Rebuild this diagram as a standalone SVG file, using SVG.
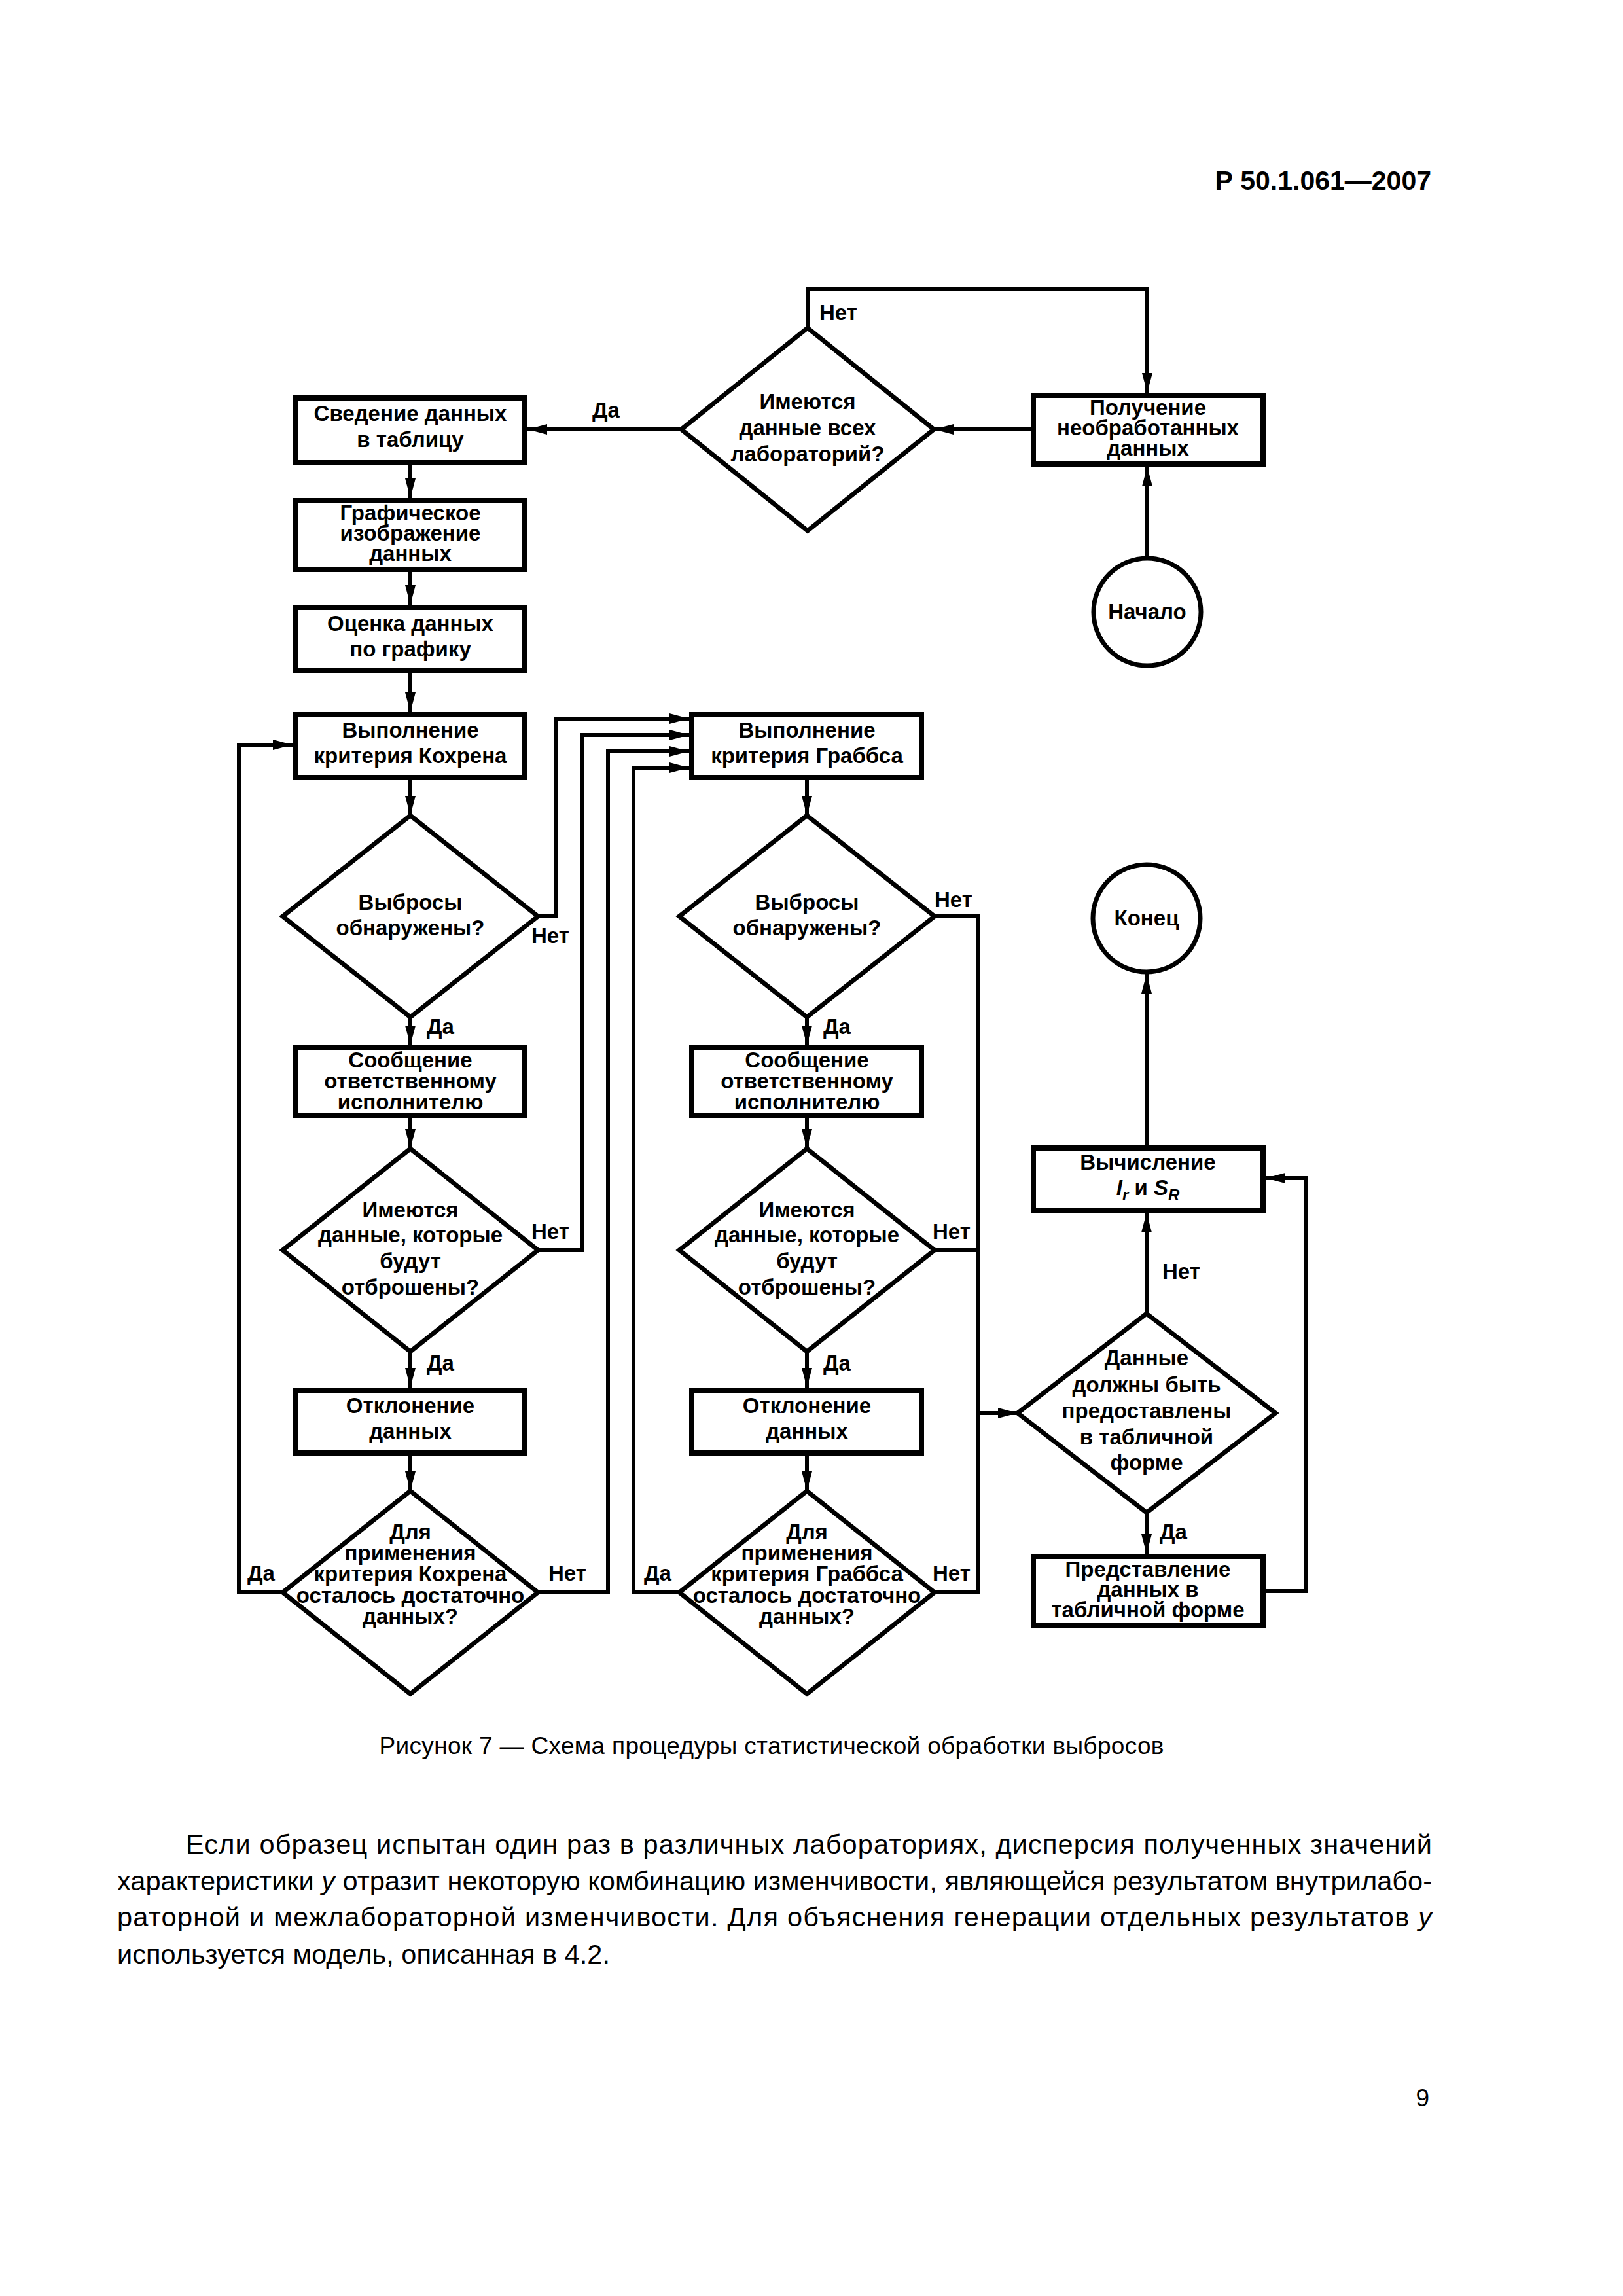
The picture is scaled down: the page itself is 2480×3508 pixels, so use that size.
<svg xmlns="http://www.w3.org/2000/svg" width="2480" height="3508" viewBox="0 0 2480 3508">
<style>
.box{fill:#fff;stroke:#000;stroke-width:8}
.dia{fill:#fff;stroke:#000;stroke-width:7;stroke-linejoin:miter}
.term{fill:#fff;stroke:#000;stroke-width:7}
.t{font-family:"Liberation Sans",Arial,sans-serif;font-weight:bold;font-size:33px;text-anchor:middle;fill:#000}
.lbl{font-family:"Liberation Sans",Arial,sans-serif;font-weight:bold;font-size:33px;fill:#000}
.conn{fill:none;stroke:#000;stroke-width:6;stroke-linejoin:miter}
.page{font-family:"Liberation Sans",Arial,sans-serif;fill:#000}
</style>
<defs>
<marker id="arr" markerUnits="userSpaceOnUse" markerWidth="30" markerHeight="16" refX="30" refY="8" orient="auto">
<path d="M0,0 L30,8 L0,16 z" fill="#000"/>
</marker>
</defs>
<rect width="2480" height="3508" fill="#fff"/>
<text class="page" x="2187" y="290" font-size="41" font-weight="bold" text-anchor="end">Р 50.1.061—2007</text>

<g id="nodes">
<g id="n_poluchenie">
<rect class="box" x="1579" y="604" width="351" height="105"/>
<text class="t" x="1754" y="634">Получение</text>
<text class="t" x="1754" y="665">необработанных</text>
<text class="t" x="1754" y="696">данных</text>
</g>
<g id="n_nachalo">
<circle class="term" cx="1753" cy="935" r="82"/>
<text class="t" x="1753" y="946">Начало</text>
</g>
<g id="n_d0">
<polygon class="dia" points="1234,501 1427,656 1234,811 1041,656"/>
<text class="t" x="1234" y="625">Имеются</text>
<text class="t" x="1234" y="665">данные всех</text>
<text class="t" x="1234" y="705">лабораторий?</text>
</g>
<g id="n_svedenie">
<rect class="box" x="451" y="608" width="351" height="99"/>
<text class="t" x="627" y="643">Сведение данных</text>
<text class="t" x="627" y="683">в таблицу</text>
</g>
<g id="n_graf">
<rect class="box" x="451" y="765" width="351" height="105"/>
<text class="t" x="627" y="795">Графическое</text>
<text class="t" x="627" y="826">изображение</text>
<text class="t" x="627" y="857">данных</text>
</g>
<g id="n_ocenka">
<rect class="box" x="451" y="928" width="351" height="97"/>
<text class="t" x="627" y="964">Оценка данных</text>
<text class="t" x="627" y="1003">по графику</text>
</g>
<g id="n_kochran">
<rect class="box" x="451" y="1092" width="351" height="96"/>
<text class="t" x="627" y="1127">Выполнение</text>
<text class="t" x="627" y="1166">критерия Кохрена</text>
</g>
<g id="n_c_d1">
<polygon class="dia" points="627,1246 822,1400 627,1554 432,1400"/>
<text class="t" x="627" y="1390">Выбросы</text>
<text class="t" x="627" y="1429">обнаружены?</text>
</g>
<g id="n_c_msg">
<rect class="box" x="451" y="1601" width="351" height="103"/>
<text class="t" x="627" y="1631">Сообщение</text>
<text class="t" x="627" y="1663">ответственному</text>
<text class="t" x="627" y="1695">исполнителю</text>
</g>
<g id="n_c_d2">
<polygon class="dia" points="627,1755 822,1910 627,2065 432,1910"/>
<text class="t" x="627" y="1860">Имеются</text>
<text class="t" x="627" y="1898">данные, которые</text>
<text class="t" x="627" y="1938">будут</text>
<text class="t" x="627" y="1978">отброшены?</text>
</g>
<g id="n_c_rej">
<rect class="box" x="451" y="2124" width="351" height="96"/>
<text class="t" x="627" y="2159">Отклонение</text>
<text class="t" x="627" y="2198">данных</text>
</g>
<g id="n_c_d3">
<polygon class="dia" points="627,2278 822,2433 627,2588 432,2433"/>
<text class="t" x="627" y="2352">Для</text>
<text class="t" x="627" y="2384">применения</text>
<text class="t" x="627" y="2416">критерия Кохрена</text>
<text class="t" x="627" y="2449">осталось достаточно</text>
<text class="t" x="627" y="2481">данных?</text>
</g>
<g id="n_grubbs">
<rect class="box" x="1057" y="1092" width="351" height="96"/>
<text class="t" x="1233" y="1127">Выполнение</text>
<text class="t" x="1233" y="1166">критерия Граббса</text>
</g>
<g id="n_g_d1">
<polygon class="dia" points="1233,1246 1428,1400 1233,1554 1038,1400"/>
<text class="t" x="1233" y="1390">Выбросы</text>
<text class="t" x="1233" y="1429">обнаружены?</text>
</g>
<g id="n_g_msg">
<rect class="box" x="1057" y="1601" width="351" height="103"/>
<text class="t" x="1233" y="1631">Сообщение</text>
<text class="t" x="1233" y="1663">ответственному</text>
<text class="t" x="1233" y="1695">исполнителю</text>
</g>
<g id="n_g_d2">
<polygon class="dia" points="1233,1755 1428,1910 1233,2065 1038,1910"/>
<text class="t" x="1233" y="1860">Имеются</text>
<text class="t" x="1233" y="1898">данные, которые</text>
<text class="t" x="1233" y="1938">будут</text>
<text class="t" x="1233" y="1978">отброшены?</text>
</g>
<g id="n_g_rej">
<rect class="box" x="1057" y="2124" width="351" height="96"/>
<text class="t" x="1233" y="2159">Отклонение</text>
<text class="t" x="1233" y="2198">данных</text>
</g>
<g id="n_g_d3">
<polygon class="dia" points="1233,2278 1428,2433 1233,2588 1038,2433"/>
<text class="t" x="1233" y="2352">Для</text>
<text class="t" x="1233" y="2384">применения</text>
<text class="t" x="1233" y="2416">критерия Граббса</text>
<text class="t" x="1233" y="2449">осталось достаточно</text>
<text class="t" x="1233" y="2481">данных?</text>
</g>
<g id="n_konec">
<circle class="term" cx="1752" cy="1403" r="82"/>
<text class="t" x="1752" y="1414">Конец</text>
</g>
<g id="n_calc">
<rect class="box" x="1579" y="1754" width="351" height="95"/>
<text class="t" x="1754" y="1787">Вычисление</text>
<text class="t" x="1754" y="1826"><tspan font-style="italic">I</tspan><tspan font-style="italic" font-size="24" dy="8">r</tspan><tspan dy="-8"> и </tspan><tspan font-style="italic">S</tspan><tspan font-style="italic" font-size="24" dy="8">R</tspan></text>
</g>
<g id="n_d4">
<polygon class="dia" points="1752,2007 1949,2159 1752,2311 1555,2159"/>
<text class="t" x="1752" y="2086">Данные</text>
<text class="t" x="1752" y="2127">должны быть</text>
<text class="t" x="1752" y="2167">предоставлены</text>
<text class="t" x="1752" y="2207">в табличной</text>
<text class="t" x="1752" y="2246">форме</text>
</g>
<g id="n_table">
<rect class="box" x="1579" y="2378" width="351" height="106"/>
<text class="t" x="1754" y="2409">Представление</text>
<text class="t" x="1754" y="2440">данных в</text>
<text class="t" x="1754" y="2471">табличной форме</text>
</g>
</g>

<g id="connectors">
<path class="conn" d="M1234,501 V441 H1753 V600" marker-end="url(#arr)"/>
<path class="conn" d="M1575,656 H1427" marker-end="url(#arr)"/>
<path class="conn" d="M1753,850 V713" marker-end="url(#arr)"/>
<path class="conn" d="M1041,656 H806" marker-end="url(#arr)"/>
<path class="conn" d="M627,711 V761" marker-end="url(#arr)"/>
<path class="conn" d="M627,874 V924" marker-end="url(#arr)"/>
<path class="conn" d="M627,1029 V1088" marker-end="url(#arr)"/>
<path class="conn" d="M627,1192 V1246" marker-end="url(#arr)"/>
<path class="conn" d="M627,1554 V1597" marker-end="url(#arr)"/>
<path class="conn" d="M627,1708 V1755" marker-end="url(#arr)"/>
<path class="conn" d="M627,2065 V2120" marker-end="url(#arr)"/>
<path class="conn" d="M627,2224 V2278" marker-end="url(#arr)"/>
<path class="conn" d="M1233,1192 V1246" marker-end="url(#arr)"/>
<path class="conn" d="M1233,1554 V1597" marker-end="url(#arr)"/>
<path class="conn" d="M1233,1708 V1755" marker-end="url(#arr)"/>
<path class="conn" d="M1233,2065 V2120" marker-end="url(#arr)"/>
<path class="conn" d="M1233,2224 V2278" marker-end="url(#arr)"/>
<path class="conn" d="M822,1400 H850 V1098 H1053" marker-end="url(#arr)"/>
<path class="conn" d="M822,1910 H890 V1123 H1053" marker-end="url(#arr)"/>
<path class="conn" d="M822,2433 H929 V1148 H1053" marker-end="url(#arr)"/>
<path class="conn" d="M432,2433 H365 V1138 H447" marker-end="url(#arr)"/>
<path class="conn" d="M1038,2433 H968 V1173 H1053" marker-end="url(#arr)"/>
<path class="conn" d="M1428,1400 H1495 V2433 H1428"/>
<path class="conn" d="M1428,1910 H1495"/>
<path class="conn" d="M1495,2159 H1555" marker-end="url(#arr)"/>
<path class="conn" d="M1752,2007 V1853" marker-end="url(#arr)"/>
<path class="conn" d="M1752,1750 V1488" marker-end="url(#arr)"/>
<path class="conn" d="M1752,2311 V2374" marker-end="url(#arr)"/>
<path class="conn" d="M1934,2431 H1995 V1800 H1934" marker-end="url(#arr)"/>
<text class="lbl" x="1252" y="489">Нет</text>
<text class="lbl" x="905" y="638">Да</text>
<text class="lbl" x="812" y="1441">Нет</text>
<text class="lbl" x="652" y="1580">Да</text>
<text class="lbl" x="812" y="1893">Нет</text>
<text class="lbl" x="652" y="2094">Да</text>
<text class="lbl" x="378" y="2415">Да</text>
<text class="lbl" x="838" y="2415">Нет</text>
<text class="lbl" x="1428" y="1386">Нет</text>
<text class="lbl" x="1258" y="1580">Да</text>
<text class="lbl" x="1425" y="1893">Нет</text>
<text class="lbl" x="1258" y="2094">Да</text>
<text class="lbl" x="984" y="2415">Да</text>
<text class="lbl" x="1425" y="2415">Нет</text>
<text class="lbl" x="1776" y="1954">Нет</text>
<text class="lbl" x="1772" y="2352">Да</text>
</g>

<text class="page" x="1179" y="2680" font-size="37" text-anchor="middle" textLength="1199" lengthAdjust="spacing">Рисунок 7 — Схема процедуры статистической обработки выбросов</text>
<g class="page" font-size="41.5">
<text x="284" y="2832" textLength="1904" lengthAdjust="spacing">Если образец испытан один раз в различных лабораториях, дисперсия полученных значений</text>
<text x="179" y="2888" textLength="2009" lengthAdjust="spacing">характеристики <tspan font-style="italic">y</tspan> отразит некоторую комбинацию изменчивости, являющейся результатом внутрилабо-</text>
<text x="179" y="2943" textLength="2009" lengthAdjust="spacing">раторной и межлабораторной изменчивости. Для объяснения генерации отдельных результатов <tspan font-style="italic">y</tspan></text>
<text x="179" y="3000" textLength="753" lengthAdjust="spacing">используется модель, описанная в 4.2.</text>
</g>
<text class="page" x="2184" y="3218" font-size="37" text-anchor="end">9</text>
</svg>
